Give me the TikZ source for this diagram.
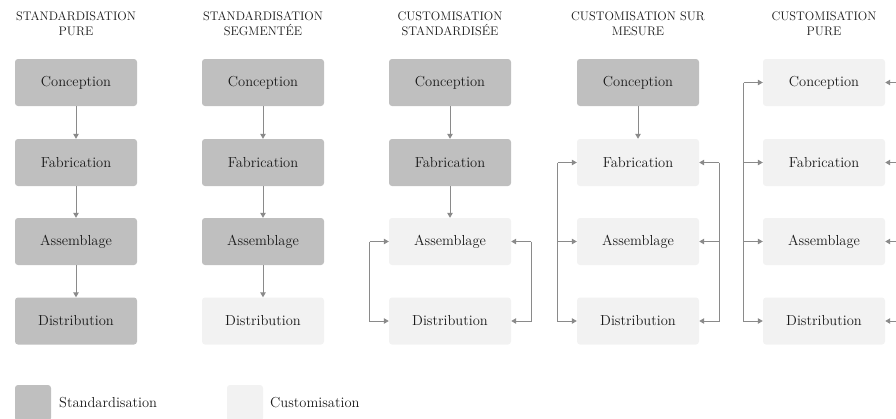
\documentclass[tikz,border=0pt]{standalone}
\usepackage{fontspec}
\usetikzlibrary{arrows.meta,calc}
\definecolor{stdgray}{HTML}{BFBFBF}
\definecolor{cusgray}{HTML}{F2F2F2}
\definecolor{arrgray}{HTML}{8A8A8A}
\definecolor{txt}{HTML}{1A1A1A}
\begin{document}
\begin{tikzpicture}[x=1pt,y=-1pt,
  std/.style={fill=stdgray, rounded corners=3pt, minimum width=122pt, minimum height=47pt, inner sep=0pt, font=\fontsize{14.5}{17}\selectfont, text=txt},
  cus/.style={std, fill=cusgray},
  ttl/.style={align=center, font=\fontsize{12.4}{15}\selectfont, text=txt, inner sep=0pt},
  lgt/.style={anchor=west, font=\fontsize{14.5}{17}\selectfont, text=txt, inner sep=0pt},
  arr/.style={draw=arrgray, line width=1pt, -{Triangle[length=5pt,width=5.5pt]}}]
\useasboundingbox (0,0) rectangle (896,418);
\clip (0,0) rectangle (896,418);
% titles
\node[ttl] (t1) at (76,24) {STANDARDISATION\\PURE};
\node[ttl] (t2) at (263,24) {STANDARDISATION\\SEGMENTÉE};
\node[ttl] (t3) at (450,24) {CUSTOMISATION\\STANDARDISÉE};
\node[ttl] (t4) at (638,24) {CUSTOMISATION SUR\\MESURE};
\node[ttl] (t5) at (824,24) {CUSTOMISATION\\PURE};
% column 1
\node[std] (n11) at (76,82.5) {Conception};
\node[std] (n12) at (76,162.5) {Fabrication};
\node[std] (n13) at (76,241.5) {Assemblage};
\node[std] (n14) at (76,321) {Distribution};
% column 2
\node[std] (n21) at (263,82.5) {Conception};
\node[std] (n22) at (263,162.5) {Fabrication};
\node[std] (n23) at (263,241.5) {Assemblage};
\node[cus] (n24) at (263,321) {Distribution};
% column 3
\node[std] (n31) at (450,82.5) {Conception};
\node[std] (n32) at (450,162.5) {Fabrication};
\node[cus] (n33) at (450,241.5) {Assemblage};
\node[cus] (n34) at (450,321) {Distribution};
% column 4
\node[std] (n41) at (638,82.5) {Conception};
\node[cus] (n42) at (638,162.5) {Fabrication};
\node[cus] (n43) at (638,241.5) {Assemblage};
\node[cus] (n44) at (638,321) {Distribution};
% column 5
\node[cus] (n51) at (824,82.5) {Conception};
\node[cus] (n52) at (824,162.5) {Fabrication};
\node[cus] (n53) at (824,241.5) {Assemblage};
\node[cus] (n54) at (824,321) {Distribution};
% vertical arrows
\draw[arr] (n11) -- (n12);
\draw[arr] (n12) -- (n13);
\draw[arr] (n13) -- (n14);
\draw[arr] (n21) -- (n22);
\draw[arr] (n22) -- (n23);
\draw[arr] (n23) -- (n24);
\draw[arr] (n31) -- (n32);
\draw[arr] (n32) -- (n33);
\draw[arr] (n41) -- (n42);
% column 3 brackets
\draw[arr] ([xshift=-19pt]n33.west) |- (n34.west);
\draw[arr] ([xshift=-19pt]n33.west) -- (n33.west);
\draw[arr] ([xshift=20pt]n33.east) |- (n34.east);
\draw[arr] ([xshift=20pt]n33.east) -- (n33.east);
% column 4 brackets
\draw[arr] ([xshift=-19pt]n42.west) |- (n44.west);
\draw[arr] ([xshift=-19pt]n42.west) -- (n42.west);
\draw[arr] ([xshift=-19pt]n43.west) -- (n43.west);
\draw[arr] ([xshift=20pt]n42.east) |- (n44.east);
\draw[arr] ([xshift=20pt]n42.east) -- (n42.east);
\draw[arr] ([xshift=20pt]n43.east) -- (n43.east);
% column 5 brackets
\draw[arr] ([xshift=-19pt]n51.west) |- (n54.west);
\draw[arr] ([xshift=-19pt]n51.west) -- (n51.west);
\draw[arr] ([xshift=-19pt]n52.west) -- (n52.west);
\draw[arr] ([xshift=-19pt]n53.west) -- (n53.west);
\coordinate (R) at (900,0);
\draw[arr] (R |- n51.east) -- (n51.east);
\draw[arr] (R |- n52.east) -- (n52.east);
\draw[arr] (R |- n53.east) -- (n53.east);
\draw[arr] (R |- n54.east) -- (n54.east);
% legend
\node[std, minimum width=36pt, minimum height=36pt] (ls) at (33,403) {};
\node[lgt] (lst) at (59,403) {Standardisation};
\node[cus, minimum width=36pt, minimum height=36pt] (lc) at (245,403) {};
\node[lgt] (lct) at (270,403) {Customisation};
\end{tikzpicture}
\end{document}
